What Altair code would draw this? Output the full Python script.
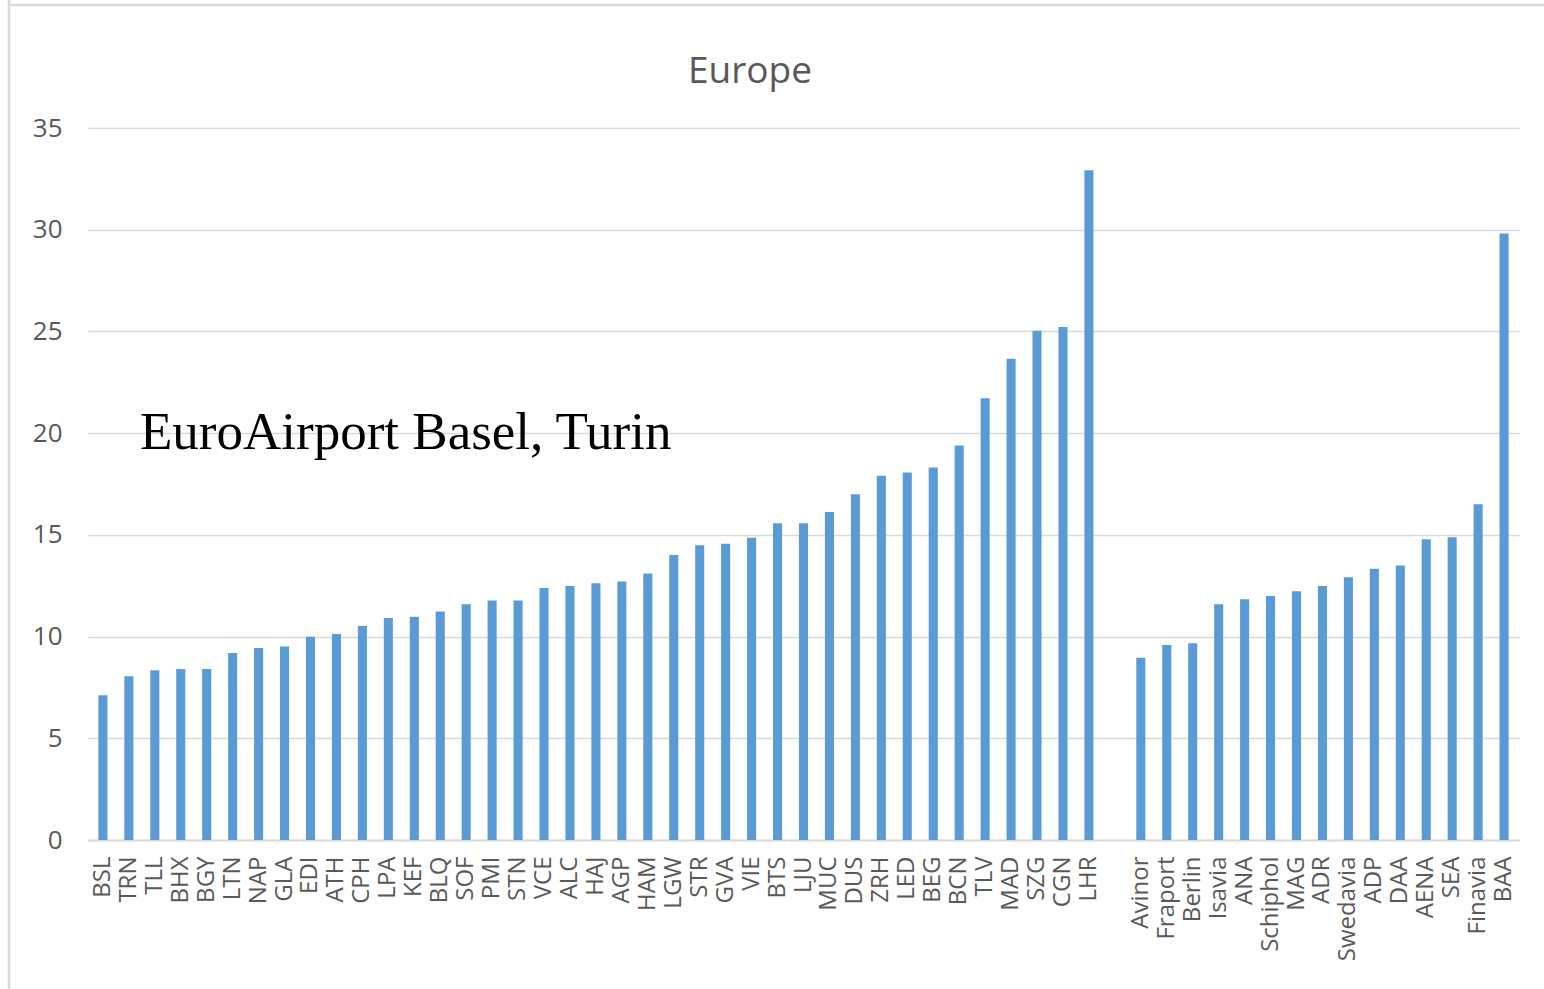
import altair as alt
import pandas as pd

# ---- data ----
europe_codes = ["BSL", "TRN", "TLL", "BHX", "BGY", "LTN", "NAP", "GLA", "EDI", "ATH",
                "CPH", "LPA", "KEF", "BLQ", "SOF", "PMI", "STN", "VCE", "ALC", "HAJ",
                "AGP", "HAM", "LGW", "STR", "GVA", "VIE", "BTS", "LJU", "MUC", "DUS",
                "ZRH", "LED", "BEG", "BCN", "TLV", "MAD", "SZG", "CGN", "LHR"]
europe_values = [7.11, 8.05, 8.34, 8.41, 8.41, 9.19, 9.44, 9.51, 9.99, 10.13,
                 10.52, 10.91, 10.97, 11.23, 11.59, 11.77, 11.77, 12.39, 12.48, 12.62,
                 12.71, 13.10, 14.01, 14.49, 14.56, 14.86, 15.57, 15.57, 16.12, 16.99,
                 17.90, 18.06, 18.31, 19.39, 21.72, 23.66, 25.03, 25.22, 32.92]

group_names = ["Avinor", "Fraport", "Berlin", "Isavia", "ANA", "Schiphol", "MAG", "ADR",
               "Swedavia", "ADP", "DAA", "AENA", "SEA", "Finavia", "BAA"]
group_values = [8.96, 9.58, 9.67, 11.59, 11.84, 12.00, 12.23, 12.48,
                12.92, 13.33, 13.49, 14.79, 14.88, 16.51, 29.81]

gap_label = " "
y_ticks = [0, 5, 10, 15, 20, 25, 30, 35]
chart_title = "Europe"
annotation = "EuroAirport Basel, Turin"

domain = europe_codes + [gap_label] + group_names
df = pd.DataFrame({
    "code": europe_codes + group_names,
    "value": europe_values + group_values,
})

W, H = 1431, 712
GRAY = "#595959"

bars = alt.Chart(df).mark_bar(color="#5b9bd5").encode(
    x=alt.X("code:N", sort=domain,
            scale=alt.Scale(domain=domain, paddingInner=0.65, paddingOuter=0.4),
            axis=alt.Axis(title=None, labelAngle=-90, labelFont="Open Sans",
                          labelFontSize=24, labelColor=GRAY, ticks=False,
                          labelPadding=16, domainColor="#d9d9d9", domainWidth=2,
                          grid=False)),
    y=alt.Y("value:Q",
            scale=alt.Scale(domain=[0, 35], nice=False),
            axis=alt.Axis(title=None, values=y_ticks, labelFont="Open Sans",
                          labelFontSize=26, labelColor=GRAY, ticks=False,
                          domain=False, labelPadding=26, gridColor="#d9d9d9",
                          gridWidth=1.6)),
)

title_mark = alt.Chart(pd.DataFrame({"t": [chart_title]})).mark_text(
    font="Open Sans", fontSize=37, color=GRAY, align="center",
    baseline="alphabetic"
).encode(text="t:N", x=alt.value(662), y=alt.value(-45))

note = alt.Chart(pd.DataFrame({"t": [annotation]})).mark_text(
    font="Liberation Serif", fontSize=53, color="black", align="left",
    baseline="alphabetic"
).encode(text="t:N", x=alt.value(52), y=alt.value(321))

frame_left = alt.Chart(pd.DataFrame({"k": [0]})).mark_rule(
    color="#d9d9d9", strokeWidth=2.5
).encode(x=alt.value(-79), y=alt.value(-128), y2=alt.value(861))
frame_top = alt.Chart(pd.DataFrame({"k": [0]})).mark_rule(
    color="#d9d9d9", strokeWidth=2.5
).encode(x=alt.value(-80), x2=alt.value(1456), y=alt.value(-123))

chart = alt.layer(bars, title_mark, note, frame_left, frame_top).properties(
    width=W, height=H,
    background="white",
    autosize=alt.AutoSizeParams(type="none"),
    padding={"left": 88, "top": 128, "right": 25, "bottom": 149},
).configure_view(strokeWidth=0, strokeOpacity=0)

chart.save("out.html", embed_options={"renderer": "svg", "actions": False})
